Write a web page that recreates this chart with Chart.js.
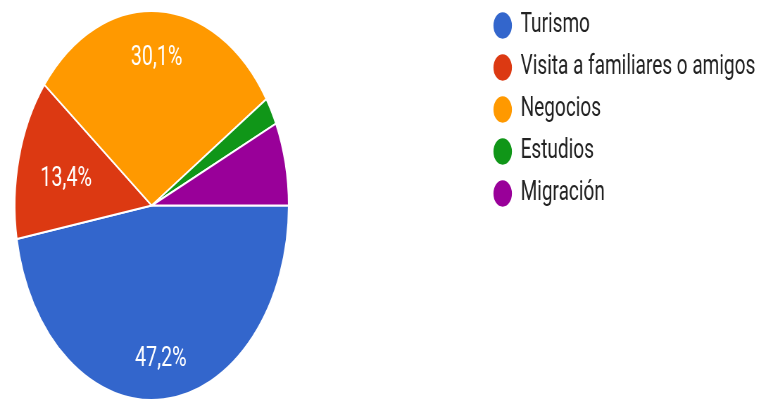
<!DOCTYPE html>
<html lang="es">
<head>
  <meta charset="UTF-8">
  <title>Motivo del viaje</title>
  <script src="https://cdn.jsdelivr.net/npm/chart.js"></script>
  <style>
    html, body {
      margin: 0;
      padding: 0;
      background: #fff;
      overflow: hidden;
      width: 760px;
      height: 399px;
    }
    /* the reference picture is squeezed sideways, so the chart is drawn wide and scaled */
    #wrap {
      width: 1080px;
      height: 401px;
      transform: scaleX(0.704);
      transform-origin: 0 0;
    }
  </style>
</head>
<body>
  <div id="wrap">
    <canvas id="pieChart"></canvas>
  </div>

  <script>
    const categories = ['Turismo', 'Visita a familiares o amigos', 'Negocios', 'Estudios', 'Migración'];
    const percentages = [47.2, 13.4, 30.1, 2.3, 6.9];
    const sliceColors = ['#3366cc', '#dc3912', '#ff9900', '#109618', '#990099'];

    // legend left edge and top in canvas pixels (before the squeeze)
    const legendX = 687;
    const legendY = -3;

    const moveLegend = {
      id: 'moveLegend',
      afterLayout(chart) {
        const lg = chart.legend;
        const dy = legendY - lg.top;
        lg.left = legendX;
        lg.right = chart.width;
        lg.width = lg.right - lg.left;
        lg.top += dy; lg.bottom += dy;
      }
    };

    const sliceLabels = {
      id: 'sliceLabels',
      afterDatasetsDraw(chart) {
        const ctx = chart.ctx;
        const meta = chart.getDatasetMeta(0);
        const values = chart.data.datasets[0].data;
        ctx.save();
        ctx.font = '28px Roboto';
        ctx.fillStyle = '#ffffff';
        ctx.textAlign = 'center';
        ctx.textBaseline = 'middle';
        meta.data.forEach((arc, i) => {
          if (values[i] < 10) return;
          const p = arc.getProps(['x', 'y', 'startAngle', 'endAngle', 'outerRadius'], true);
          const mid = (p.startAngle + p.endAngle) / 2;
          const text = values[i].toFixed(1).replace('.', ',') + '%';
          const w = ctx.measureText(text).width;
          const h = 20;
          const c = Math.cos(mid), s = Math.sin(mid);
          const d = p.outerRadius * 0.84 - (Math.abs(c) * w / 2 + Math.abs(s) * h / 2);
          ctx.fillText(text, p.x + c * d, p.y + s * d + 4);
        });
        ctx.restore();
      }
    };

    const ctx = document.getElementById('pieChart').getContext('2d');
    const pieChart = new Chart(ctx, {
      type: 'pie',
      data: {
        labels: categories,
        datasets: [{
          data: percentages,
          backgroundColor: sliceColors,
          borderColor: '#ffffff',
          borderWidth: 2
        }]
      },
      options: {
        responsive: true,
        maintainAspectRatio: false,
        animation: false,
        rotation: 90,
        layout: {
          padding: { left: 20, top: 10, bottom: 0, right: 369 }
        },
        plugins: {
          tooltip: { enabled: false },
          legend: {
            position: 'right',
            align: 'start',
            maxWidth: 300,
            labels: {
              usePointStyle: true,
              pointStyle: 'circle',
              boxWidth: 24,
              boxHeight: 20,
              padding: 15,
              color: '#222222',
              font: { family: 'Roboto', size: 27 }
            }
          }
        }
      },
      plugins: [moveLegend, sliceLabels]
    });
  </script>
</body>
</html>
